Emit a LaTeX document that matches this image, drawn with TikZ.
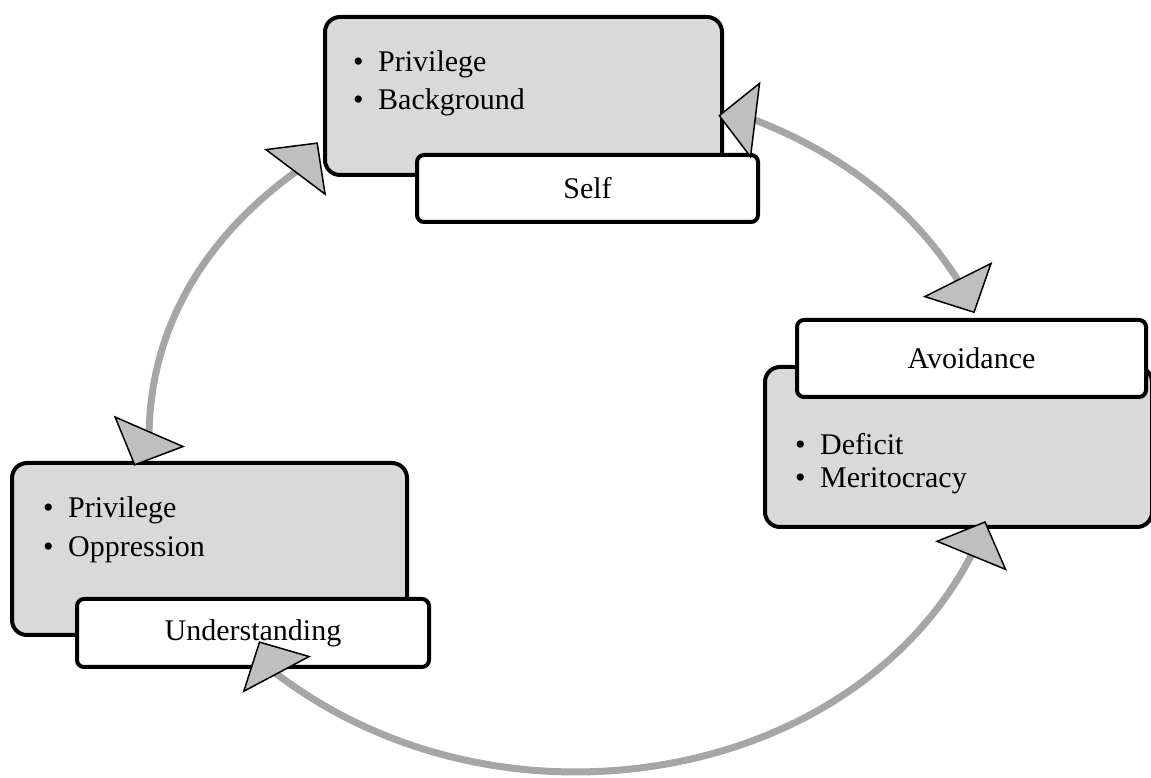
\documentclass[tikz,border=0pt]{standalone}
\usepackage{fontspec}
\setmainfont{Liberation Serif}
\usetikzlibrary{calc}
\definecolor{boxgray}{HTML}{D9D9D9}
\definecolor{arcgray}{HTML}{A6A6A6}
\definecolor{tipgray}{HTML}{BFBFBF}
\newcommand{\itm}[1]{\makebox[25pt][l]{\textbullet}#1}
\tikzset{
    graybox/.style={draw=black, fill=boxgray, line width=4pt, rounded corners=15pt},
    labelbox/.style={draw=black, fill=white, line width=4pt, rounded corners=7pt,
      font=\fontsize{30}{36}\selectfont},
    bulletline/.style={anchor=base west, inner sep=0pt, font=\fontsize{30}{36}\selectfont},
    cycarc/.style={draw=arcgray, line width=7pt, shorten <=-8pt, shorten >=-8pt},
    cyctip/.style={draw=black, fill=tipgray, line width=1.5pt, line join=miter}
}

\begin{document}
\begin{tikzpicture}[x=1pt,y=1pt]
    \useasboundingbox (0,0) rectangle (1151,778);
    % Self
    \node[graybox, minimum width=397pt, minimum height=158pt] (selfbox) at (523.5,682) {};
    \node[labelbox, minimum width=341pt, minimum height=67pt] (self) at (587.5,589.5) {Self};
    \node[bulletline] (self1) at (353,706) {\itm{Privilege}};
    \node[bulletline] (self2) at (353,668) {\itm{Background}};
    %
    % Avoidance
    \node[graybox, minimum width=387pt, minimum height=160pt] (avoidbox) at (958.5,331) {};
    \node[labelbox, minimum width=349pt, minimum height=77pt] (avoid) at (971.5,419.5) {Avoidance};
    \node[bulletline] (avoid1) at (795,323) {\itm{Deficit}};
    \node[bulletline] (avoid2) at (795,290) {\itm{Meritocracy}};
    %
    % Understanding
    \node[graybox, minimum width=395pt, minimum height=172pt] (understbox) at (209.5,229) {};
    \node[labelbox, minimum width=352pt, minimum height=68pt] (underst) at (253,145) {Understanding};
    \node[bulletline] (underst1) at (43,260) {\itm{Privilege}};
    \node[bulletline] (underst2) at (43,221) {\itm{Oppression}};
    %
    % cycle: arcs with a triangle at each end
    \coordinate (ctr) at (575,348);
    \foreach \a/\b/\da/\db [count=\i] in {131/180.3/53/-113.5,65/26/173/-63.4,-21.5/-134.5/67.7/118}{
     \draw[cycarc] ($(ctr)+(\a:426 and 342)$) coordinate (s\i)
       arc[start angle=\a, end angle=\b, x radius=426, y radius=342] coordinate (e\i);
     \draw[cyctip, shift={(s\i)}, rotate=\da] (36,0) -- (0,37) -- (0,-37) -- cycle;
     \draw[cyctip, shift={(e\i)}, rotate=\db] (36,0) -- (0,37) -- (0,-37) -- cycle;
    }
\end{tikzpicture}
\end{document}
